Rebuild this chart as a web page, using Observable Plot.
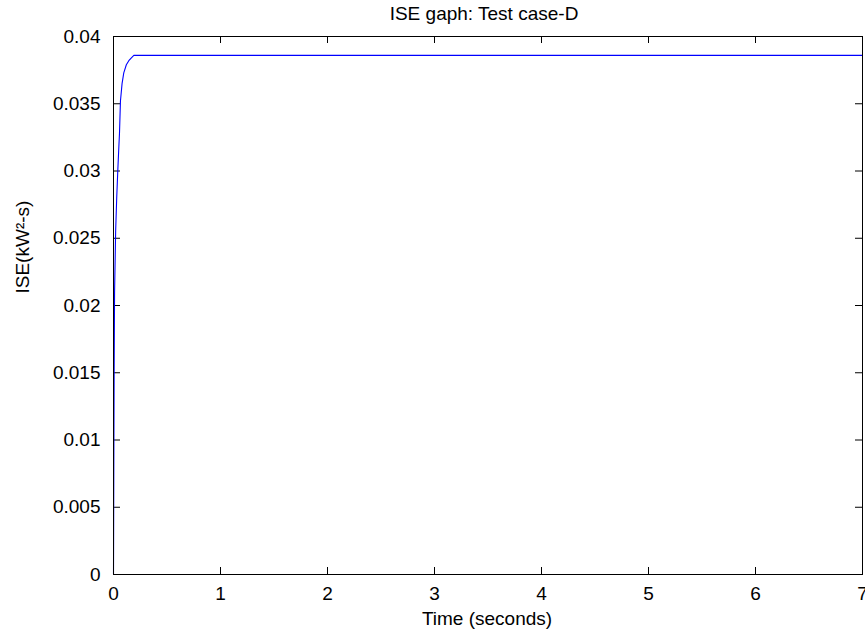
<!DOCTYPE html>
<html>
<head>
<meta charset="utf-8">
<script src="https://cdn.jsdelivr.net/npm/d3@7"></script>
<script src="https://cdn.jsdelivr.net/npm/@observablehq/plot@0.6"></script>
<style>
  html, body { margin: 0; padding: 0; background: #fff; overflow: hidden; }
  #chart svg { display: block; }
</style>
</head>
<body>
<div id="chart"></div>
<script>
const titleText = "ISE gaph: Test case-D";
const xLabelText = "Time (seconds)";
const yLabelText = "ISE(kW²-s)";

const time = [0, 0.003, 0.006, 0.01, 0.02, 0.03, 0.04, 0.05, 0.056, 0.065, 0.08, 0.096, 0.12, 0.143, 0.165, 0.19, 7];
const ise  = [0, 0.008, 0.015, 0.021, 0.0255, 0.028, 0.030, 0.0318, 0.0328, 0.0352, 0.0365, 0.0373, 0.0379, 0.0382, 0.0384, 0.0386, 0.0386];

const xTicks = [0, 1, 2, 3, 4, 5, 6, 7];
const yTicks = [0, 0.005, 0.01, 0.015, 0.02, 0.025, 0.03, 0.035, 0.04];

const data = time.map((t, i) => ({t, v: ise[i]}));

const W = 865, H = 632;
const mL = 113, mR = 3, mT = 36, mB = 58;
const fw = W - mL - mR, fh = H - mT - mB;
const tick = 7;
const font = "Liberation Sans, Arial, Helvetica, sans-serif";

const chart = Plot.plot({
  width: W,
  height: H,
  marginLeft: mL,
  marginRight: mR,
  marginTop: mT,
  marginBottom: mB,
  style: {fontFamily: font, fontSize: "19px", color: "#000", background: "#fff", overflow: "visible"},
  x: {domain: [0, 7]},
  y: {domain: [0, 0.04]},
  marks: [
    Plot.tickX(xTicks, {x: d => d, insetTop: fh - tick, stroke: "#000", strokeWidth: 1}),
    Plot.tickX(xTicks, {x: d => d, insetBottom: fh - tick, stroke: "#000", strokeWidth: 1}),
    Plot.tickY(yTicks, {y: d => d, insetRight: fw - tick, stroke: "#000", strokeWidth: 1}),
    Plot.tickY(yTicks, {y: d => d, insetLeft: fw - tick, stroke: "#000", strokeWidth: 1}),
    Plot.axisX({ticks: xTicks, tickSize: 0, tickPadding: 12, tickFormat: d => String(d), label: null, fontSize: 19}),
    Plot.axisY({ticks: yTicks, tickSize: 0, tickPadding: 13, tickFormat: d => String(+d.toFixed(3)), label: null, fontSize: 19}),
    Plot.line(data, {x: "t", y: "v", stroke: "#0000ff", strokeWidth: 1.1}),
    Plot.frame({stroke: "#000", strokeWidth: 1}),
    Plot.text([titleText], {text: d => d, frameAnchor: "top", dy: -23, dx: -4, lineAnchor: "middle", fontSize: 19, letterSpacing: 1.4, fill: "#000"}),
    Plot.text([xLabelText], {text: d => d, frameAnchor: "bottom", dy: 44, dx: -1, lineAnchor: "middle", fontSize: 19, letterSpacing: 1.4, fill: "#000"}),
    Plot.text([yLabelText], {text: d => d, frameAnchor: "left", dx: -91, dy: -12, rotate: -90, lineAnchor: "middle", fontSize: 19, fill: "#000"})
  ]
});
document.getElementById("chart").append(chart);
</script>
</body>
</html>
